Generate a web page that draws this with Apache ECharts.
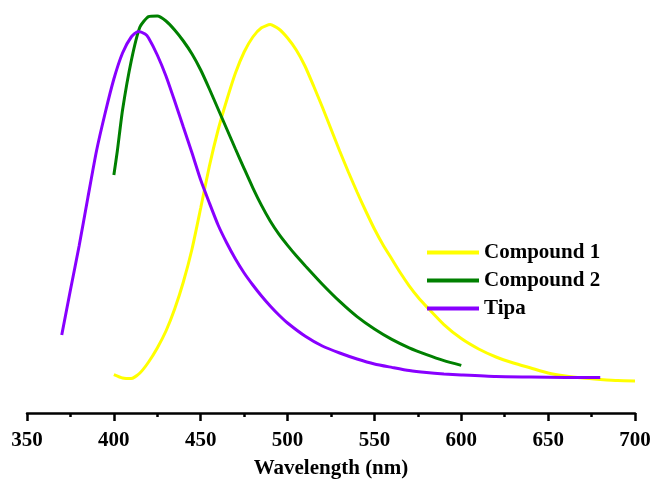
<!DOCTYPE html>
<html>
<head>
<meta charset="utf-8">
<script src="https://cdn.jsdelivr.net/npm/echarts@6/dist/echarts.min.js"></script>
<style>
  html, body { margin: 0; padding: 0; background: #fff; }
  #main { width: 654px; height: 479px; }
</style>
</head>
<body>
<div id="main"></div>
<script>
var chartDom = document.getElementById('main');
var myChart = echarts.init(chartDom);
var option;

// wavelengths (nm) and normalized intensities
var c1Wave = [400, 405, 410, 415, 420, 425, 430, 435, 440, 445, 450, 455, 460, 465, 470, 475, 480, 485, 490, 495, 500, 505, 510, 515, 520, 525, 530, 535, 540, 545, 550, 555, 560, 565, 570, 575, 580, 590, 600, 610, 620, 630, 640, 650, 660, 670, 680, 690, 700];
var c1Int = [0.096, 0.0875, 0.086, 0.10, 0.1275, 0.1625, 0.205, 0.26, 0.3275, 0.41, 0.5125, 0.6175, 0.7075, 0.7825, 0.85, 0.9025, 0.94, 0.963, 0.971, 0.96, 0.9375, 0.9075, 0.8675, 0.8175, 0.765, 0.71, 0.655, 0.6025, 0.5525, 0.505, 0.46, 0.42, 0.385, 0.35, 0.318, 0.29, 0.266, 0.221, 0.186, 0.16, 0.14, 0.125, 0.1125, 0.10, 0.0925, 0.0875, 0.084, 0.081, 0.08];

var c2Wave = [400, 402, 405, 410, 415, 420, 425, 430, 435, 440, 445, 450, 455, 460, 465, 470, 475, 480, 485, 490, 495, 500, 505, 510, 520, 530, 540, 550, 560, 570, 580, 590, 600];
var c2Int = [0.595, 0.655, 0.7575, 0.88, 0.965, 0.991, 0.9925, 0.98, 0.9575, 0.93, 0.8975, 0.8575, 0.81, 0.76, 0.71, 0.66, 0.611, 0.563, 0.519, 0.48, 0.447, 0.419, 0.393, 0.369, 0.322, 0.279, 0.241, 0.21, 0.184, 0.163, 0.146, 0.131, 0.119];

var tipaWave = [370, 375, 380, 385, 390, 395, 400, 405, 410, 414, 418, 420, 425, 430, 435, 440, 445, 450, 455, 460, 465, 470, 475, 480, 485, 490, 495, 500, 510, 520, 530, 540, 550, 560, 570, 580, 590, 600, 620, 640, 660, 680];
var tipaInt = [0.195, 0.3075, 0.4175, 0.5375, 0.655, 0.75, 0.835, 0.90, 0.94, 0.954, 0.9475, 0.9375, 0.895, 0.8425, 0.78, 0.715, 0.65, 0.5825, 0.525, 0.47, 0.425, 0.385, 0.35, 0.32, 0.2925, 0.2675, 0.245, 0.225, 0.1925, 0.1675, 0.15, 0.135, 0.1225, 0.114, 0.106, 0.101, 0.0975, 0.095, 0.091, 0.09, 0.089, 0.089];

var seriesNames = ['Compound 1', 'Compound 2', 'Tipa'];
var seriesColors = ['#ffff00', '#008000', '#8800ff'];

function pairs(xs, ys) {
    return xs.map(function (x, i) { return [x, ys[i]]; });
}

var seriesData = [pairs(c1Wave, c1Int), pairs(c2Wave, c2Int), pairs(tipaWave, tipaInt)];

var fontFam = '"Liberation Serif", "Times New Roman", serif';

option = {
    backgroundColor: '#fff',
    animation: false,
    grid: {
        left: 27,
        right: 19,
        top: 13,
        bottom: 66,
        outerBoundsMode: 'none'
    },
    legend: {
        orient: 'vertical',
        left: 422,
        top: 237,
        icon: 'path://M0,0 L52,0 L52,4 L0,4 Z',
        itemWidth: 52,
        itemHeight: 4,
        itemGap: 7,
        data: seriesNames,
        textStyle: {
            fontFamily: fontFam,
            fontWeight: 'bold',
            fontSize: 21,
            color: '#000'
        }
    },
    xAxis: {
        type: 'value',
        min: 350,
        max: 700,
        interval: 50,
        name: 'Wavelength (nm)',
        nameLocation: 'middle',
        nameGap: 45,
        nameTextStyle: {
            fontFamily: fontFam,
            fontWeight: 'bold',
            fontSize: 21,
            color: '#000'
        },
        axisLine: {
            onZero: false,
            lineStyle: { color: '#000', width: 2.5 }
        },
        axisTick: {
            show: true,
            inside: false,
            length: 8,
            lineStyle: { color: '#000', width: 2.5 }
        },
        minorTick: {
            show: true,
            splitNumber: 2,
            length: 4,
            lineStyle: { color: '#000', width: 2.5 }
        },
        axisLabel: {
            margin: 17,
            fontFamily: fontFam,
            fontWeight: 'bold',
            fontSize: 21,
            color: '#000'
        },
        splitLine: { show: false }
    },
    yAxis: {
        type: 'value',
        min: 0,
        max: 1,
        show: false
    },
    series: seriesNames.map(function (name, i) {
        return {
            name: name,
            type: 'line',
            data: seriesData[i],
            showSymbol: false,
            symbol: 'none',
            smooth: 0.2,
            color: seriesColors[i],
            lineStyle: { color: seriesColors[i], width: 3 }
        };
    })
};

myChart.setOption(option);
</script>
</body>
</html>
